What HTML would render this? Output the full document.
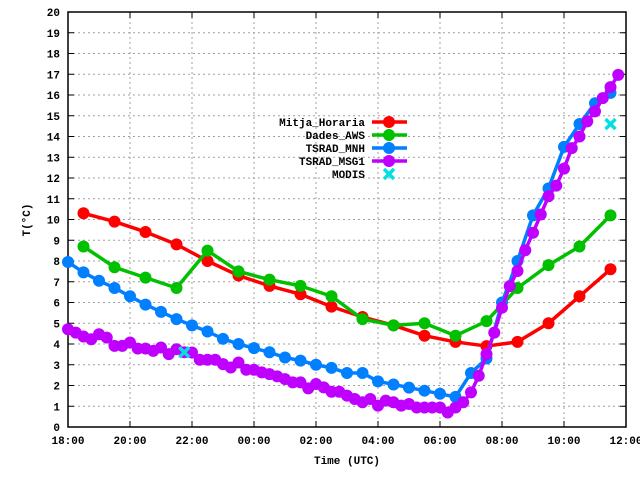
<!DOCTYPE html>
<html><head><meta charset="utf-8"><style>
html,body{margin:0;padding:0;background:#fff;}
svg{display:block;font-family:"Liberation Mono",monospace;font-weight:bold;font-size:11px;}
</style></head><body>
<svg id="chart" width="640" height="480">
<g id="grid"></g>
<g id="axes"></g>
<g id="series"></g>
<g id="legend"></g>
<text x="30" y="220" text-anchor="middle" transform="rotate(-90 30 220)">T(°C)</text>
<text x="347" y="464" text-anchor="middle">Time (UTC)</text>
</svg>
<script>
// hours since 18:00
const xTickLabels = ["18:00","20:00","22:00","00:00","02:00","04:00","06:00","08:00","10:00","12:00"];
const yTicks = [0,1,2,3,4,5,6,7,8,9,10,11,12,13,14,15,16,17,18,19,20];
const redTimes = [0.5,1.5,2.5,3.5,4.5,5.5,6.5,7.5,8.5,9.5,10.5,11.5,12.5,13.5,14.5,15.5,16.5,17.5];
const redValues = [10.3,9.9,9.4,8.8,8.0,7.3,6.8,6.4,5.8,5.3,4.9,4.4,4.1,3.9,4.1,5.0,6.3,7.6];
const greenTimes = [0.5,1.5,2.5,3.5,4.5,5.5,6.5,7.5,8.5,9.5,10.5,11.5,12.5,13.5,14.5,15.5,16.5,17.5];
const greenValues = [8.7,7.7,7.2,6.7,8.5,7.5,7.1,6.8,6.3,5.2,4.9,5.0,4.4,5.1,6.7,7.8,8.7,10.2];
const blueTimes = [0,0.5,1,1.5,2,2.5,3,3.5,4,4.5,5,5.5,6,6.5,7,7.5,8,8.5,9,9.5,10,10.5,11,11.5,12,12.5,13,13.5,14,14.5,15,15.5,16,16.5,17,17.5];
const blueValues = [7.95,7.45,7.05,6.7,6.3,5.9,5.55,5.2,4.9,4.6,4.25,4.0,3.8,3.6,3.35,3.2,3.0,2.85,2.6,2.6,2.2,2.05,1.9,1.75,1.6,1.45,2.6,3.3,6.0,8.0,10.2,11.5,13.5,14.6,15.6,16.1];
const magentaTimes = [0,0.25,0.5,0.75,1,1.25,1.5,1.75,2,2.25,2.5,2.75,3,3.25,3.5,3.75,4,4.25,4.5,4.75,5,5.25,5.5,5.75,6,6.25,6.5,6.75,7,7.25,7.5,7.75,8,8.25,8.5,8.75,9,9.25,9.5,9.75,10,10.25,10.5,10.75,11,11.25,11.5,11.75,12,12.25,12.5,12.75,13,13.25,13.5,13.75,14,14.25,14.5,14.75,15,15.25,15.5,15.75,16,16.25,16.5,16.75,17,17.25,17.5,17.75];
const magentaValues = [4.71,4.55,4.36,4.23,4.47,4.31,3.91,3.91,4.07,3.78,3.78,3.67,3.83,3.51,3.75,3.6,3.59,3.24,3.24,3.24,3.03,2.87,3.11,2.76,2.76,2.63,2.55,2.44,2.31,2.15,2.15,1.86,2.07,1.91,1.70,1.70,1.51,1.35,1.19,1.35,1.03,1.27,1.19,1.03,1.11,0.94,0.94,0.94,0.94,0.70,0.94,1.19,1.67,2.47,3.51,4.55,5.75,6.79,7.52,8.52,9.36,10.24,11.12,11.63,12.45,13.44,14.0,14.73,15.21,15.85,16.38,16.97];
const modisTimes = [3.75,17.5];
const modisValues = [3.6,14.6];

const X0=68, X1=626, Y0=427, Y1=12;
const xS = h => X0 + h*(X1-X0)/18;
const yS = v => Y0 - v*(Y0-Y1)/20;
const NS="http://www.w3.org/2000/svg";
function mk(tag, attrs, parent){const e=document.createElementNS(NS,tag);for(const k in attrs)e.setAttribute(k,attrs[k]);parent.appendChild(e);return e;}
const grid=document.getElementById('grid'), axes=document.getElementById('axes'), series=document.getElementById('series'), legend=document.getElementById('legend');

yTicks.forEach(v=>{
  const y=yS(v);
  if(v>0&&v<20){const g=mk('line',{x1:X0,x2:X1,y1:y,y2:y,stroke:'#a0a0a0','stroke-dasharray':'2,3','stroke-width':1},grid);
  
  }
  mk('line',{x1:X0,x2:X0+6,y1:y,y2:y,stroke:'#000'},axes);
  mk('line',{x1:X1,x2:X1-6,y1:y,y2:y,stroke:'#000'},axes);
  const t=mk('text',{x:X0-8,y:y+4,'text-anchor':'end'},axes);
  t.textContent=v;
  
  
});
xTickLabels.forEach((lab,i)=>{
  const x=xS(i*2);
  if(i>0&&i<9){const g=mk('line',{x1:x,x2:x,y1:Y1,y2:Y0,stroke:'#a0a0a0','stroke-dasharray':'2,3','stroke-width':1},grid);
  
  }
  mk('line',{x1:x,x2:x,y1:Y0,y2:Y0-6,stroke:'#000'},axes);
  mk('line',{x1:x,x2:x,y1:Y1,y2:Y1+6,stroke:'#000'},axes);
  const t=mk('text',{x:x,y:Y0+17,'text-anchor':'middle'},axes);
  t.textContent=lab;
  
  
});
const frame=mk('rect',{x:X0,y:Y1,width:X1-X0,height:Y0-Y1,fill:'none',stroke:'#000','stroke-width':1.5},axes);



function drawSeries(name,times,vals,color){
  const g=mk('g',{},series);
  
  
  mk('polyline',{points:times.map((t,i)=>xS(t)+','+yS(vals[i])).join(' '),fill:'none',stroke:color,'stroke-width':3.5,'stroke-linejoin':'round'},g);
  times.forEach((t,i)=>{
    const c=mk('circle',{cx:xS(t),cy:yS(vals[i]),r:6,fill:color},g);
    
    
  });
}
drawSeries('mitja-horaria',redTimes,redValues,'#ff0000');
drawSeries('dades-aws',greenTimes,greenValues,'#00c000');
drawSeries('tsrad-mnh',blueTimes,blueValues,'#0080ff');
drawSeries('tsrad-msg1',magentaTimes,magentaValues,'#c000ff');
function cross(x,y,parent){
  mk('path',{d:`M${x-5},${y-5}L${x+5},${y+5}M${x-5},${y+5}L${x+5},${y-5}`,stroke:'#00e0e0','stroke-width':3.5},parent);
}
const mg=mk('g',{},series);


modisTimes.forEach((t,i)=>cross(xS(t),yS(modisValues[i]),mg));

const legNames=["Mitja_Horaria","Dades_AWS","TSRAD_MNH","TSRAD_MSG1","MODIS"];
const legColors=['#ff0000','#00c000','#0080ff','#c000ff','#00e0e0'];
legNames.forEach((n,i)=>{
  const y=122+i*13;
  const g=mk('g',{},legend);
  
  
  const t=mk('text',{x:365,y:y+4,'text-anchor':'end'},g);
  t.textContent=n;
  if(i<4){mk('line',{x1:372,x2:407,y1:y,y2:y,stroke:legColors[i],'stroke-width':3.5},g);mk('circle',{cx:389,cy:y,r:6,fill:legColors[i]},g);}
  else cross(389,y,g);
});
</script>
</body></html>
